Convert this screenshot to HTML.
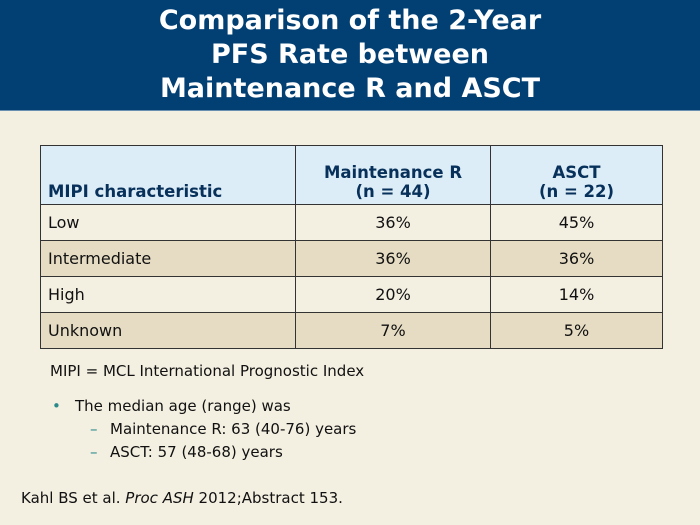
<!DOCTYPE html>
<html><head><meta charset="utf-8"><style>
body{margin:0;width:700px;height:525px;background:#f3efe1;font-family:"DejaVu Sans","Liberation Sans",sans-serif;position:relative;overflow:hidden}
#hdr{position:absolute;left:0;top:0;width:700px;height:110px;background:#023f73;border-bottom:1px solid #6a8fb0}
#title{position:absolute;top:4px;left:0;width:700px;text-align:center;color:#fff;font-weight:bold;font-size:27px;line-height:34px}
table{position:absolute;left:40px;top:145px;border-collapse:collapse;width:623px}
td,th{border:1.5px solid #333;padding:0 7px;font-size:16px;color:#111}
th{background:#dcedf7;color:#07305a;font-weight:bold;height:55px;vertical-align:bottom;padding-bottom:3px;font-size:16.5px}
td{height:35px}
tr.alt td{background:#e6dcc3}
td.n{text-align:center}
.t{position:absolute;font-size:15px;color:#111;white-space:nowrap}
</style></head><body>
<div id="hdr"><div id="title">Comparison of the 2-Year<br>PFS Rate between<br>Maintenance R and ASCT</div></div>
<table>
<tr><th style="width:240px;text-align:left">MIPI characteristic</th><th style="width:180px">Maintenance R<br>(n = 44)</th><th>ASCT<br>(n = 22)</th></tr>
<tr><td>Low</td><td class="n">36%</td><td class="n">45%</td></tr>
<tr class="alt"><td>Intermediate</td><td class="n">36%</td><td class="n">36%</td></tr>
<tr><td>High</td><td class="n">20%</td><td class="n">14%</td></tr>
<tr class="alt"><td>Unknown</td><td class="n">7%</td><td class="n">5%</td></tr>
</table>
<div class="t" style="left:50px;top:362px">MIPI = MCL International Prognostic Index</div>
<div class="t" style="left:52px;top:397px;color:#2a8a8a">•</div>
<div class="t" style="left:75px;top:397px">The median age (range) was</div>
<div class="t" style="left:90px;top:420px;color:#2a8a8a">–</div>
<div class="t" style="left:110px;top:420px">Maintenance R: 63 (40-76) years</div>
<div class="t" style="left:90px;top:443px;color:#2a8a8a">–</div>
<div class="t" style="left:110px;top:443px">ASCT: 57 (48-68) years</div>
<div class="t" style="left:21px;top:489px">Kahl BS et al. <i>Proc ASH</i> 2012;Abstract 153.</div>
</body></html>
